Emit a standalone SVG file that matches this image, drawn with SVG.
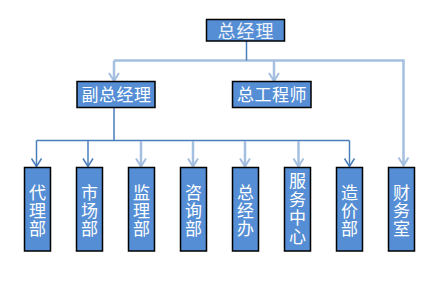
<svg xmlns="http://www.w3.org/2000/svg" width="446" height="284" viewBox="0 0 446 284">
<style>
.box{fill:#558ed5;stroke:#000;stroke-width:1.5}
.t{fill:#fff;font-family:"Liberation Sans","Noto Sans CJK SC",sans-serif;font-size:17px;text-anchor:middle}
.top{fill:#eef2f8;font-family:"Liberation Serif","Noto Sans CJK SC",serif;font-size:18px;text-anchor:middle;letter-spacing:1px}
.dk{fill:none;stroke:#4a7ebb;stroke-width:1.5}
.lt{fill:none;stroke:#a5bfe0;stroke-width:2.5}
</style>
<defs>
<marker id="ad" markerUnits="userSpaceOnUse" viewBox="-10 -10 20 20" markerWidth="20" markerHeight="20" refX="0" refY="0" orient="auto" overflow="visible">
<path d="M-8,-5 L0,0 L-8,5" fill="none" stroke="#4a7ebb" stroke-width="1.5"/>
</marker>
<marker id="al" markerUnits="userSpaceOnUse" viewBox="-10 -10 20 20" markerWidth="20" markerHeight="20" refX="0" refY="0" orient="auto" overflow="visible">
<path d="M-8,-5 L0,0 L-8,5" fill="none" stroke="#a5bfe0" stroke-width="2"/>
</marker>
</defs>
<rect width="446" height="284" fill="#fff"/>
<g id="connectors">
<path class="lt" d="M114,60.5 H403.5 V165.5" marker-end="url(#al)"/>
<path class="lt" d="M114,60.5 V81" marker-end="url(#al)"/>
<path class="lt" d="M274,60.5 V81" marker-end="url(#al)"/>
<path class="dk" d="M246.5,41 V60.5"/>
<path class="dk" d="M114,108 V140.5 M36.5,140.5 H349.5"/>
<path class="dk" d="M36.5,140.5 V166.5" marker-end="url(#ad)"/>
<path class="dk" d="M88,140.5 V166.5" marker-end="url(#ad)"/>
<path class="lt" d="M141,141 V166.5" marker-end="url(#al)"/>
<path class="lt" d="M193,141 V166.5" marker-end="url(#al)"/>
<path class="lt" d="M245,141 V166.5" marker-end="url(#al)"/>
<path class="lt" d="M298.5,141 V166.5" marker-end="url(#al)"/>
<path class="dk" d="M349.5,140.5 V166.5" marker-end="url(#ad)"/>
</g>
<g id="n-zjl"><rect class="box" x="206.5" y="19.5" width="78" height="21.5"/><text class="top" x="246" y="37.5">总经理</text></g>
<g id="n-fzjl"><rect class="box" x="77" y="81.5" width="78" height="26"/><text class="t" x="116.5" y="101" style="letter-spacing:0.5px">副总经理</text></g>
<g id="n-zgcs"><rect class="box" x="232.5" y="81.5" width="78.5" height="26"/><text class="t" x="272" y="101" style="letter-spacing:0.5px">总工程师</text></g>
<g id="n-dlb"><rect class="box" x="24.5" y="167.5" width="26" height="83.5"/><text class="t"><tspan x="37.5" y="199">代</tspan><tspan x="37.5" y="217">理</tspan><tspan x="37.5" y="235">部</tspan></text></g>
<g id="n-scb"><rect class="box" x="76.5" y="167.5" width="26" height="83.5"/><text class="t"><tspan x="89.5" y="199">市</tspan><tspan x="89.5" y="217">场</tspan><tspan x="89.5" y="235">部</tspan></text></g>
<g id="n-jlb"><rect class="box" x="128.5" y="167.5" width="26" height="83.5"/><text class="t"><tspan x="141.5" y="199">监</tspan><tspan x="141.5" y="217">理</tspan><tspan x="141.5" y="235">部</tspan></text></g>
<g id="n-zxb"><rect class="box" x="180.5" y="167.5" width="26" height="83.5"/><text class="t"><tspan x="193.5" y="199">咨</tspan><tspan x="193.5" y="217">询</tspan><tspan x="193.5" y="235">部</tspan></text></g>
<g id="n-zjb"><rect class="box" x="232.5" y="167.5" width="26" height="83.5"/><text class="t"><tspan x="245.5" y="199">总</tspan><tspan x="245.5" y="217">经</tspan><tspan x="245.5" y="235">办</tspan></text></g>
<g id="n-fwzx"><rect class="box" x="284.5" y="167.5" width="26" height="83.5"/><text class="t"><tspan x="297.5" y="187">服</tspan><tspan x="297.5" y="205.5">务</tspan><tspan x="297.5" y="224">中</tspan><tspan x="297.5" y="242.5">心</tspan></text></g>
<g id="n-zjbu"><rect class="box" x="336.5" y="167.5" width="26" height="83.5"/><text class="t"><tspan x="349.5" y="199">造</tspan><tspan x="349.5" y="217">价</tspan><tspan x="349.5" y="235">部</tspan></text></g>
<g id="n-cws"><rect class="box" x="388.5" y="167.5" width="26" height="83.5"/><text class="t"><tspan x="401.5" y="199">财</tspan><tspan x="401.5" y="217">务</tspan><tspan x="401.5" y="235">室</tspan></text></g>
</svg>
